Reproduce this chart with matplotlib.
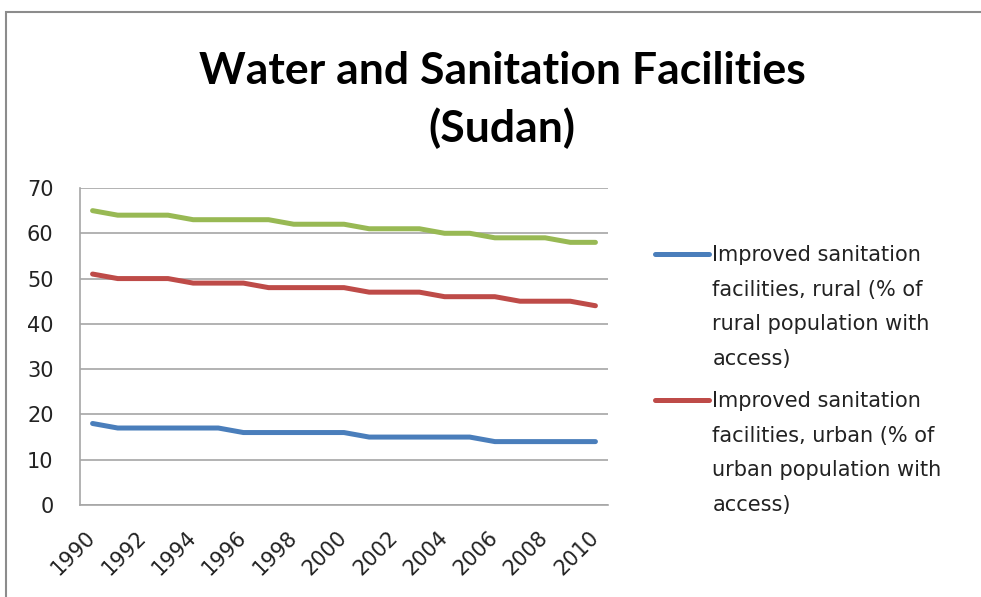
import matplotlib
matplotlib.use("Agg")
import matplotlib.pyplot as plt
from matplotlib.patches import Rectangle

plt.rcParams['font.family'] = ['DejaVu Sans']

years = list(range(1990, 2011))
tick_years = list(range(1990, 2011, 2))

# Improved water source / sanitation shares (% of population), Sudan
water_top = [65, 64, 64, 64, 63, 63, 63, 63, 62, 62, 62, 61, 61, 61, 60, 60, 59, 59, 59, 58, 58]
sanit_urban = [51, 50, 50, 50, 49, 49, 49, 48, 48, 48, 48, 47, 47, 47, 46, 46, 46, 45, 45, 45, 44]
sanit_rural = [18, 17, 17, 17, 17, 17, 16, 16, 16, 16, 16, 15, 15, 15, 15, 15, 14, 14, 14, 14, 14]

label_rural = "Improved sanitation\nfacilities, rural (% of\nrural population with\naccess)"
label_urban = "Improved sanitation\nfacilities, urban (% of\nurban population with\naccess)"

fig = plt.figure(figsize=(9.81, 5.97), dpi=100)
ax = fig.add_axes([80 / 981, 1 - 505 / 597, 528 / 981, 317 / 597])

ax.plot(years, sanit_rural, color='#4A7EBB', lw=3.6, label=label_rural, solid_capstyle='round')
ax.plot(years, sanit_urban, color='#BE4B48', lw=3.6, label=label_urban, solid_capstyle='round')
ax.plot(years, water_top, color='#98B954', lw=3.6, solid_capstyle='round')

ax.set_xlim(1989.5, 2010.5)
ax.set_ylim(0, 70)
ax.set_yticks(range(0, 71, 10))
ax.set_xticks(tick_years)
ax.set_xticklabels([str(y) for y in tick_years], rotation=45, ha='right', va='center',
                   rotation_mode='anchor', fontsize=15)
ax.tick_params(axis='y', length=0, pad=19, labelsize=15, labelcolor='#222222')
ax.tick_params(axis='x', length=0, pad=21, labelcolor='#222222')
ax.grid(axis='y', color='#A6A6A6', lw=1.2)
ax.set_axisbelow(True)
for side in ['top', 'right']:
    ax.spines[side].set_visible(False)
for side in ['left', 'bottom']:
    ax.spines[side].set_color('#A6A6A6')
    ax.spines[side].set_linewidth(1.2)

fig.text(502 / 981, 1 - 100 / 597, "Water and Sanitation Facilities\n(Sudan)",
         ha='center', va='center', fontsize=32, fontweight='bold',
         linespacing=1.45, color='black', family=['Lato', 'DejaVu Sans'])

leg = ax.legend(loc='upper left', bbox_to_anchor=(655 / 981, 1 - 245 / 597),
                bbox_transform=fig.transFigure, frameon=False, fontsize=15,
                handlelength=2.6, handletextpad=0.15, handleheight=1.2,
                labelspacing=1.08, borderpad=0, borderaxespad=0)
for t in leg.get_texts():
    t.set_linespacing(1.91)
    t.set_color('#222222')
try:
    for col in leg._legend_handle_box.get_children():
        for item in col.get_children():
            item.align = 'top'
except AttributeError:
    pass

# outer chart frame
fig.patches.append(Rectangle((6 / 981, -0.1), 1.2, 0.98 + 0.1, transform=fig.transFigure,
                             fill=False, edgecolor='#8C8C8C', lw=1.5))

fig.savefig("out.png", dpi=100)
